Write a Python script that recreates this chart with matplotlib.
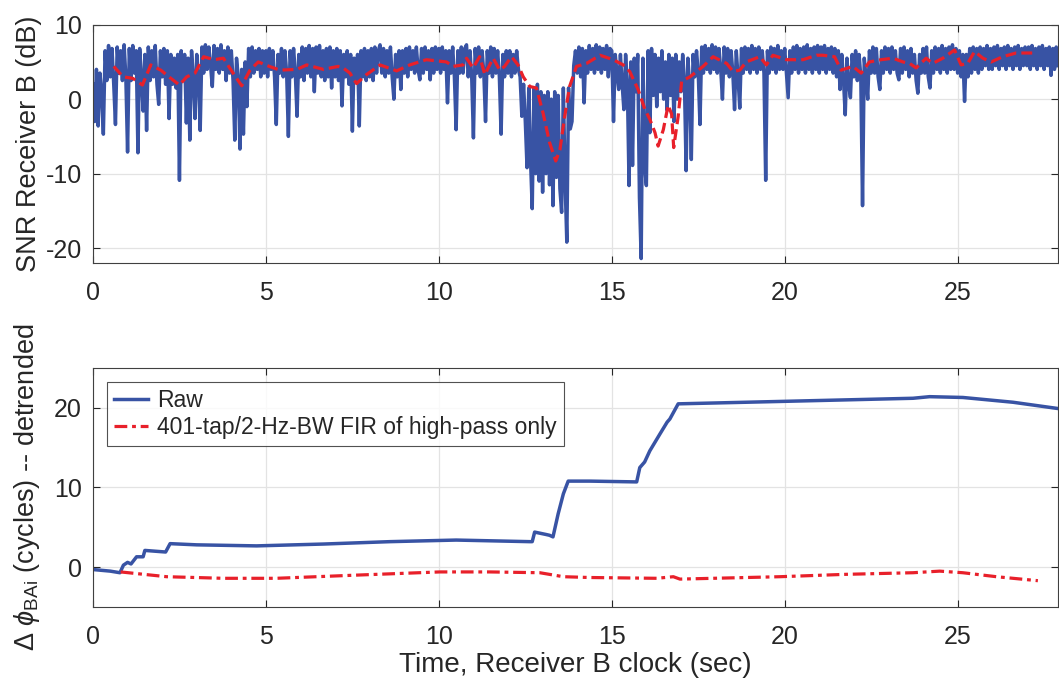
import numpy as np
import matplotlib
matplotlib.use("Agg")
import matplotlib.pyplot as plt

plt.rcParams['font.family'] = ['Liberation Sans', 'DejaVu Sans']
plt.rcParams['mathtext.fontset'] = 'custom'
plt.rcParams['mathtext.rm'] = 'Liberation Sans'
plt.rcParams['mathtext.it'] = 'Liberation Sans:italic'
plt.rcParams['axes.unicode_minus'] = False

# ---- Top panel: SNR, raw samples every 0.05 s ----
snr_dt = 0.05
snr_raw = [
    2.0, -3.0, 4.0, -3.6, 3.5, 1.0, -4.7, 6.5, 2.5, 7.2, 3.0, 6.8, 2.0, -3.4, 7.0, 3.5, 6.5, 2.5, 7.3, 3.0,
    -7.1, 6.8, 2.5, 7.2, 3.5, 6.5, -7.2, 6.8, 3.0, -1.6, 6.0, -4.2, 7.0, 2.5, 6.5, 3.0, 7.2, 2.0, -0.7, 6.5,
    3.0, 6.8, 2.0, 6.5, -2.6, 6.0, 2.0, 5.5, 1.5, 6.0, -10.9, 6.5, 2.5, 6.0, -3.2, 5.5, -5.5, 6.5, 3.0, -2.6,
    6.0, 3.0, -4.2, 7.0, 3.5, 7.3, 4.0, 7.0, 4.5, 1.7, 7.2, 4.0, 6.8, 3.5, 7.3, 4.0, 6.5, 2.5, 7.0, 3.5,
    6.5, 2.5, -5.5, 5.5, 3.0, -6.7, 4.0, -4.7, 5.0, -1.0, 6.8, 3.0, 7.0, 3.5, 6.5, 4.0, 6.8, 3.0, 6.5, 3.5,
    6.5, 3.0, 6.8, 4.0, 6.5, 3.0, -3.4, 6.0, 3.5, 6.8, 3.0, 6.5, 3.5, -5.0, 6.5, 3.0, 6.8, 3.5, -2.3, 6.0,
    3.0, 7.0, 2.5, 6.8, 3.5, 7.2, 3.0, 6.8, 1.0, 7.0, 3.5, 7.2, 3.0, 6.5, 2.5, 6.8, 3.0, 7.0, 1.5, 6.5,
    3.0, 6.8, 2.5, 6.5, -0.9, 6.0, 3.0, 6.5, 2.0, 6.0, -4.3, 5.5, 2.5, 6.0, -3.6, 6.5, 3.0, 6.8, 2.5, 6.5,
    3.0, 6.8, 2.5, 7.0, 3.5, 6.5, 7.3, 3.5, 6.8, 3.0, 6.5, 3.5, 7.0, 3.0, 0.0, 6.0, 3.0, 6.5, 1.3, 6.5,
    3.5, 6.8, 3.0, 7.0, 4.0, 6.5, 3.5, 7.0, 4.0, 2.6, 6.8, 3.5, 7.0, 4.0, 6.5, 2.6, 6.8, 3.5, 7.0, 4.0,
    6.8, 3.5, 7.0, 4.0, 6.5, -0.5, 6.5, 3.5, 7.0, 3.0, -4.1, 6.5, 3.5, 7.0, 3.5, 6.8, 7.3, 3.0, 6.5, 3.0,
    -5.2, 6.8, 3.5, 7.0, 3.0, 6.5, 3.5, -3.0, 6.5, 3.5, 7.0, 3.0, 6.8, 3.5, 6.5, 3.0, -4.7, 6.0, 3.0, 6.5,
    3.5, 6.5, 3.0, 6.0, 3.5, 6.5, 4.0, 3.0, -2.3, 2.0, -3.0, -9.2, 1.5, -8.0, -14.7, 1.5, -10.0, 2.0, -11.0, 1.0,
    -12.5, 0.5, -10.0, 1.0, -11.5, 0.0, -14.3, 1.0, -10.5, 0.5, -12.0, -15.2, 1.5, -11.0, -19.2, 1.5, -4.0, -3.0, 4.5, 6.5,
    3.5, 7.0, 3.0, 6.8, -0.5, 6.5, 3.5, 7.2, 4.0, 6.8, 3.5, 7.3, 4.0, 7.0, 3.5, 6.8, 4.0, 7.2, 3.0, 6.8,
    6.5, -3.0, 6.0, 3.5, 1.3, 6.0, 2.0, -1.4, 6.0, 2.0, -11.6, 5.0, -8.9, 5.5, 1.0, 6.0, -13.2, -21.4, 5.5, -8.9,
    -11.6, 6.5, -4.5, 6.8, 0.5, 6.0, -1.0, 5.5, 1.0, 6.5, 0.0, 5.0, -1.5, 6.0, 0.5, 5.5, -3.0, 6.0, 0.0, 5.0,
    1.0, 6.0, 2.5, -9.6, 5.5, 2.0, -8.1, 6.0, 3.0, 6.5, 3.5, -3.4, 7.0, 3.5, 7.2, 4.0, 6.8, 3.5, 7.3, 4.0,
    7.0, 3.5, 6.8, 4.0, 0.0, 7.0, 3.5, 6.8, 3.0, 6.5, 3.5, -1.4, 6.5, 3.0, -1.2, 6.8, 3.5, 7.0, 4.0, 6.8,
    3.5, 7.2, 4.0, 6.8, 3.5, 7.0, 4.0, 6.5, 3.5, -10.9, 6.5, 3.5, 7.0, 4.0, 6.8, 3.5, 7.2, 4.0, 6.5, 4.0,
    6.8, 3.5, 0.2, 6.5, 3.5, 7.0, 4.0, 7.2, 3.5, 6.8, 4.0, 7.0, 3.5, 7.3, 4.0, 6.8, 3.5, 7.0, 4.0, 7.2,
    3.5, 7.0, 4.0, 7.2, 3.5, 6.8, 4.0, 7.0, 3.5, 6.8, 3.0, 6.5, 1.3, 6.0, 2.5, -2.1, 5.5, 2.0, 0.2, 6.0,
    3.0, 6.5, 2.5, 6.0, 3.0, -14.3, 5.5, 3.0, 0.0, 6.5, 3.5, 7.0, 3.5, 6.8, 3.0, 1.3, 6.5, 3.5, 7.0, 4.0,
    6.8, 3.5, 7.0, 4.0, 6.5, 3.5, 2.6, 6.8, 3.5, 7.0, 4.0, 6.5, 3.0, 6.8, 3.5, 6.0, 2.5, 0.8, 6.0, 3.5,
    6.8, 3.5, 7.0, 3.0, 1.5, 6.5, 3.5, 7.0, 4.0, 6.8, 3.5, 7.2, 4.0, 6.8, 3.5, 7.0, 4.0, 7.3, 4.0, 6.8,
    3.5, 6.5, 3.0, 6.0, -0.3, 6.0, 3.0, 6.8, 3.5, 7.0, 4.0, 6.8, 3.5, 7.0, 4.0, 6.8, 4.5, 7.2, 4.0, 6.8,
    4.0, 7.0, 4.5, 7.2, 4.0, 6.8, 4.5, 7.0, 4.0, 7.2, 4.5, 6.8, 4.0, 7.0, 4.5, 7.2, 4.0, 6.8, 4.5, 7.0,
    4.5, 7.0, 4.0, 7.2, 4.5, 6.8, 4.0, 7.0, 4.5, 7.2, 4.0, 6.8, 4.5, 7.0, 3.2, 6.8, 4.0, 7.0, 4.5,
]

snr_fir_t = [0.6, 0.87, 1.15, 1.43, 1.67, 1.96, 2.25, 2.5, 2.71, 2.95,
             3.2, 3.5, 3.77, 4.05, 4.3, 4.54, 4.78, 5.1, 5.4, 5.9,
             6.18, 6.66, 7.09, 7.23, 7.43, 7.62, 7.91, 8.3, 8.78, 9.16,
             9.64, 10.22, 10.41, 10.7, 10.8, 10.99, 11.18, 11.33, 11.47, 11.57,
             11.76, 11.9, 12.1, 12.29, 12.44, 12.63, 12.82, 13.01, 13.2, 13.38,
             13.5, 13.64, 13.78, 13.98, 14.27, 14.66, 15.04, 15.33, 15.52, 15.76,
             15.96, 16.1, 16.25, 16.34, 16.49, 16.63, 16.73, 16.79, 16.92, 17.02,
             17.26, 17.64, 17.93, 18.32, 18.51, 18.7, 18.89, 19.28, 19.47, 19.66,
             20.05, 20.53, 20.92, 21.1, 21.44, 21.63, 21.97, 22.21, 22.45, 22.79,
             23.13, 23.42, 23.61, 23.8, 24.09, 24.28, 24.57, 24.91, 25.1, 25.29,
             25.49, 25.73, 25.97, 26.3, 26.69, 27.27]
snr_fir = [4.4, 3.0, 2.8, 1.9, 4.6, 3.9, 2.8, 1.9, 3.0, 3.5,
           5.7, 5.3, 5.5, 3.5, 1.8, 3.9, 5.0, 4.4, 3.9, 4.0,
           4.6, 4.0, 4.4, 4.2, 3.5, 2.1, 3.3, 4.6, 3.8, 4.6,
           5.3, 5.0, 4.4, 4.6, 5.5, 4.2, 5.7, 3.3, 4.6, 5.5,
           3.9, 4.4, 5.7, 4.6, 3.0, 1.7, 1.5, -1.8, -5.8, -8.3,
           -6.8, -2.3, 1.7, 4.4, 4.8, 5.9, 5.3, 4.6, 3.7, 1.3,
           -1.4, -2.7, -4.5, -6.3, -4.1, -0.8, -2.0, -6.5, -2.3, 2.4,
           3.0, 4.4, 5.7, 4.8, 3.7, 3.9, 5.0, 5.7, 4.6, 5.9,
           5.3, 5.3, 5.9, 5.9, 5.7, 3.9, 4.4, 3.5, 5.0, 5.3,
           5.5, 5.0, 4.8, 4.2, 5.5, 4.8, 5.5, 6.6, 4.6, 4.8,
           6.4, 5.5, 5.0, 5.7, 6.2, 6.2]

# ---- Bottom panel: detrended phase ----
phase_raw_t = [0.0, 0.5, 0.78, 0.88, 1.0, 1.1, 1.26, 1.45, 1.5, 2.1,
               2.23, 3.0, 4.73, 6.66, 8.58, 10.5, 12.63, 12.7, 12.77, 13.1,
               13.2, 13.3, 13.45, 13.6, 13.74, 14.36, 15.72, 15.81, 15.95, 16.1,
               16.39, 16.6, 16.68, 16.92, 19.86, 23.71, 24.19, 25.15, 26.6, 27.92]
phase_raw = [-0.3, -0.5, -0.7, 0.25, 0.6, 0.4, 1.3, 1.3, 2.1, 1.9,
             2.95, 2.8, 2.67, 2.9, 3.2, 3.4, 3.2, 3.2, 4.4, 4.1,
             4.0, 3.8, 6.7, 9.2, 10.8, 10.8, 10.7, 12.5, 13.2, 14.6,
             16.7, 18.2, 18.6, 20.5, 20.8, 21.2, 21.4, 21.3, 20.7, 19.9]

phase_fir_t = [0.8, 2.13, 3.77, 5.3, 7.62, 10.03, 11.47, 12.92, 13.6, 14.36,
               16.3, 16.78, 16.97, 19.86, 21.78, 23.71, 24.48, 25.15, 26.12, 27.32]
phase_fir = [-0.6, -1.2, -1.4, -1.4, -1.0, -0.6, -0.6, -0.7, -1.2, -1.3,
             -1.4, -1.2, -1.5, -1.2, -0.9, -0.7, -0.5, -0.7, -1.2, -1.7]

legend_labels = ['Raw', '401-tap/2-Hz-BW FIR of high-pass only']

BLUE = '#3853a4'
RED = '#e8202a'
TXT = '#262626'

fig = plt.figure(figsize=(10.59, 6.84), dpi=100)
ax1 = fig.add_axes([0.0878, 0.6155, 0.9112, 0.3484])
ax2 = fig.add_axes([0.0878, 0.1126, 0.9112, 0.3494])

snr_t = np.arange(len(snr_raw)) * snr_dt
ax1.plot(snr_t, snr_raw, color=BLUE, lw=2.5)
ax1.plot(snr_fir_t, snr_fir, color=RED, lw=2.3, linestyle=(0, (3.4, 1.6)))
ax1.set_xlim(0, 27.9)
ax1.set_ylim(-22, 10)
ax1.set_xticks([0, 5, 10, 15, 20, 25])
ax1.set_yticks([-20, -10, 0, 10])
ax1.set_ylabel('SNR Receiver B (dB)', fontsize=19.5, color=TXT)

ax2.plot(phase_raw_t, phase_raw, color=BLUE, lw=2.5, label=legend_labels[0])
ax2.plot(phase_fir_t, phase_fir, color=RED, lw=2.3, linestyle=(0, (4, 1.5, 1.2, 1.5)),
         label=legend_labels[1])
ax2.set_xlim(0, 27.9)
ax2.set_ylim(-5, 25)
ax2.set_xticks([0, 5, 10, 15, 20, 25])
ax2.set_yticks([0, 10, 20])
ax2.set_xlabel('Time, Receiver B clock (sec)', fontsize=20, color=TXT, labelpad=2)
ax2.set_ylabel(r'$\Delta\ \phi_{\mathrm{BAi}}$ (cycles) -- detrended', fontsize=19.5, color=TXT)
leg = ax2.legend(loc='upper left', fontsize=16.5, frameon=True, fancybox=False,
                 borderaxespad=0.6, handlelength=1.5, handletextpad=0.4,
                 borderpad=0.3, labelspacing=0.2)
leg.get_frame().set_edgecolor(TXT)
leg.get_frame().set_linewidth(0.8)
for t in leg.get_texts():
    t.set_color(TXT)

for ax in (ax1, ax2):
    ax.grid(True, color='#e3e3e3', lw=0.9)
    ax.set_axisbelow(True)
    ax.tick_params(direction='in', top=True, right=True, labelsize=18,
                   colors=TXT, length=5, width=0.8)
    ax.tick_params(axis='x', pad=13)
    ax.tick_params(axis='y', pad=8)
    ax.yaxis.set_label_coords(-0.053, 0.5)
    for s in ax.spines.values():
        s.set_color('#404040')
        s.set_linewidth(0.8)

fig.savefig('out.png', dpi=100)
